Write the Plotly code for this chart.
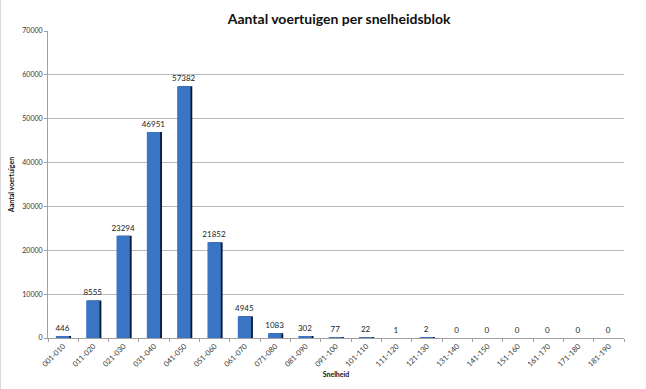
import plotly.graph_objects as go

categories = ["001-010", "011-020", "021-030", "031-040", "041-050", "051-060",
              "061-070", "071-080", "081-090", "091-100", "101-110", "111-120",
              "121-130", "131-140", "141-150", "151-160", "161-170", "171-180",
              "181-190"]
values = [446, 8555, 23294, 46951, 57382, 21852, 4945, 1083, 302, 77, 22, 1, 2,
          0, 0, 0, 0, 0, 0]
y_ticks = [0, 10000, 20000, 30000, 40000, 50000, 60000, 70000]

font_family = "Lato, Open Sans, sans-serif"

fig = go.Figure()
# shadow
fig.add_trace(go.Bar(
    x=categories, y=values, width=0.46, offset=-0.20,
    marker=dict(color="#0b1a33", line=dict(width=0)),
    hoverinfo="skip", showlegend=False,
))
# main bar
fig.add_trace(go.Bar(
    x=categories, y=values, width=0.44, offset=-0.24,
    marker=dict(color="#3a74c4", line=dict(width=0)),
    text=[str(v) for v in values], textposition="outside",
    constraintext="none",
    textfont=dict(size=8, color="#222222", family=font_family),
    cliponaxis=False, showlegend=False,
))

fig.update_layout(
    width=646, height=389,
    margin=dict(l=48, r=22, t=31, b=51),
    paper_bgcolor="white", plot_bgcolor="white",
    barmode="overlay",
    title=dict(text="<b>Aantal voertuigen per snelheidsblok</b>",
               x=0.525, xanchor="center", y=0.952, yanchor="middle",
               font=dict(size=14, color="#111111", family=font_family)),
    font=dict(family=font_family),
)
fig.update_xaxes(
    type="category", categoryorder="array", categoryarray=categories,
    tickangle=-45, tickfont=dict(size=7.5, color="#333333"),
    showline=True, linecolor="#a0a0a0", linewidth=1,
    ticks="outside", ticklen=3, tickcolor="#a0a0a0", tickson="boundaries",
    showgrid=False,
    title=dict(text="<b>Snelheid</b>", font=dict(size=7, color="#111111"), standoff=4),
)
fig.update_yaxes(
    range=[0, 70000], tickvals=y_ticks, ticktext=[str(v) for v in y_ticks],
    tickfont=dict(size=7, color="#333333"),
    showline=True, linecolor="#a0a0a0", linewidth=1,
    ticks="outside", ticklen=3, tickcolor="#a0a0a0",
    showgrid=True, gridcolor="#b8b8b8", gridwidth=1,
    zeroline=False,
    title=dict(text="<b>Aantal voertuigen</b>", font=dict(size=7, color="#111111"), standoff=6),
)
fig.add_shape(type="line", xref="paper", yref="paper", x0=-0.083, x1=-0.083, y0=-0.2, y1=1.1,
              line=dict(color="#c8c8c8", width=1))

fig.write_html("out.html", config={"displayModeBar": False},
               post_script="document.body.style.margin='0';document.body.style.padding='0';")
